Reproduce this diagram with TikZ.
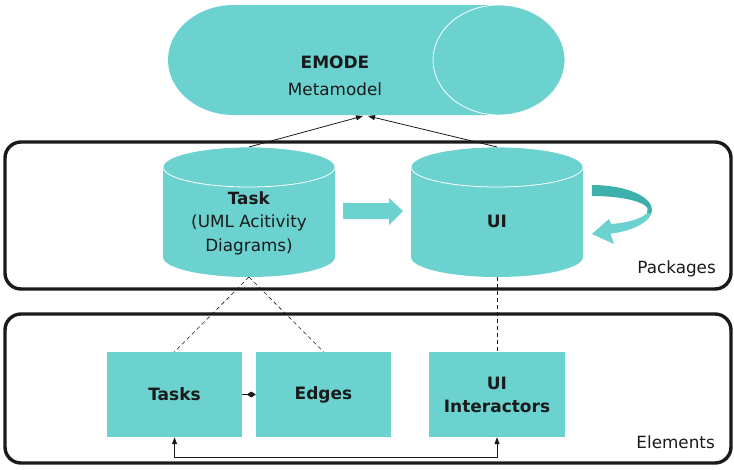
\documentclass[tikz,border=0pt]{standalone}
\usepackage{fontspec}
\setmainfont{DejaVu Sans}
\usetikzlibrary{arrows.meta,calc}
\definecolor{teal1}{RGB}{107,210,208}
\definecolor{teal2}{RGB}{61,176,171}
\definecolor{ink}{RGB}{26,26,26}
\begin{document}
\begin{tikzpicture}[x=1pt,y=-1pt,
  txt/.style={text=ink,font=\fontsize{16.8}{23.5}\selectfont,align=center,inner sep=0pt},
  btxt/.style={txt,font=\fontsize{17}{23}\selectfont\bfseries},
  frame/.style={draw=ink,line width=3.4pt,rounded corners=16pt},
  elem/.style={fill=teal1,minimum width=135pt,minimum height=85pt,inner sep=0pt,
    text=ink,font=\fontsize{17}{23}\selectfont\bfseries,align=center},
  hook/.style={inner sep=0pt,outer sep=0pt},
  link/.style={draw=ink,line width=0.8pt},
  tip/.style={-{Triangle[length=7pt,width=5pt]}},
  trace/.style={draw=ink,line width=0.6pt,dash pattern=on 4pt off 3pt}]
\useasboundingbox (0,0) rectangle (734,469);

% package and element frames
\draw[frame] (5,142) rectangle (731,289);
\draw[frame] (5,314) rectangle (731,463);
\node[txt,anchor=east] (pk) at (716,269) {Packages};
\node[txt,anchor=east] (el) at (715,442) {Elements};

% metamodel drum
\fill[teal1] (234,5) -- (499,5)
  arc[start angle=90,end angle=-90,x radius=66pt,y radius=55pt]
  -- (234,115)
  arc[start angle=270,end angle=90,x radius=66pt,y radius=55pt] -- cycle;
\draw[white,line width=0.8pt] (499,60) ellipse[x radius=66pt,y radius=55pt];
\node[hook,minimum width=396pt,minimum height=110pt] (meta) at (366,60) {};
\node[btxt] (emode) at (335,62) {EMODE};
\node[txt] (mm) at (335,89) {Metamodel};

% package cylinders
\foreach \cx in {249,497}{
  \fill[teal1] (\cx-86,167) -- (\cx-86,257)
    arc[start angle=180,end angle=360,x radius=86pt,y radius=20pt]
    -- (\cx+86,167)
    arc[start angle=0,end angle=180,x radius=86pt,y radius=20pt] -- cycle;
  \draw[white,line width=0.8pt] (\cx,167) ellipse[x radius=86pt,y radius=20pt];
}
\node[hook,minimum width=172pt,minimum height=130pt] (task) at (249,212) {};
\node[hook,minimum width=172pt,minimum height=130pt] (ui) at (497,212) {};
\node[txt] (tasklbl) at (249,223) {\textbf{Task}\\(UML Acitivity\\Diagrams)};
\node[btxt] (uilbl) at (497,221) {UI};

% block arrow from Task to UI
\fill[teal1] (343,203) -- (389,203) -- (389,198) -- (403,211)
  -- (389,225) -- (389,219) -- (343,219) -- cycle;

% self-loop on UI
\fill[teal2] (592,185)
  arc[start angle=90,end angle=-10,x radius=60pt,y radius=25pt]
  -- (647,212.4)
  arc[start angle=-10,end angle=90,x radius=56pt,y radius=14pt] -- cycle;
\fill[teal1] (651.1,214.3)
  arc[start angle=-10,end angle=-72,x radius=60pt,y radius=25pt]
  -- (614,244) -- (592,234) -- (609,219) -- (611.2,224.1)
  arc[start angle=-70,end angle=-10,x radius=56pt,y radius=15pt] -- cycle;

% element boxes
\node[elem] (tasks) at (174.5,394.5) {Tasks};
\node[elem] (edges) at (323.5,394.5) {Edges};
\node[elem,minimum width=136pt] (uiint) at (497,394.5) {UI\\Interactors};

% connectors
\draw[link,tip] (task.north) -- ($(meta.south)+(-3,1)$);
\draw[link,tip] (ui.north) -- ($(meta.south)+(2,1)$);
\draw[trace] (task.south) -- (tasks.north);
\draw[trace] (task.south) -- (edges.north);
\draw[trace] (ui.south) -- (uiint.south |- uiint.north);
\draw[link,-{Diamond[length=9pt,width=6pt]}] (tasks.east) -- (edges.west);
\draw[link,{Triangle[length=7pt,width=5pt]}-{Triangle[length=7pt,width=5pt]}]
  (tasks.south) -- ++(0,20) -| (uiint.south);
\end{tikzpicture}
\end{document}
